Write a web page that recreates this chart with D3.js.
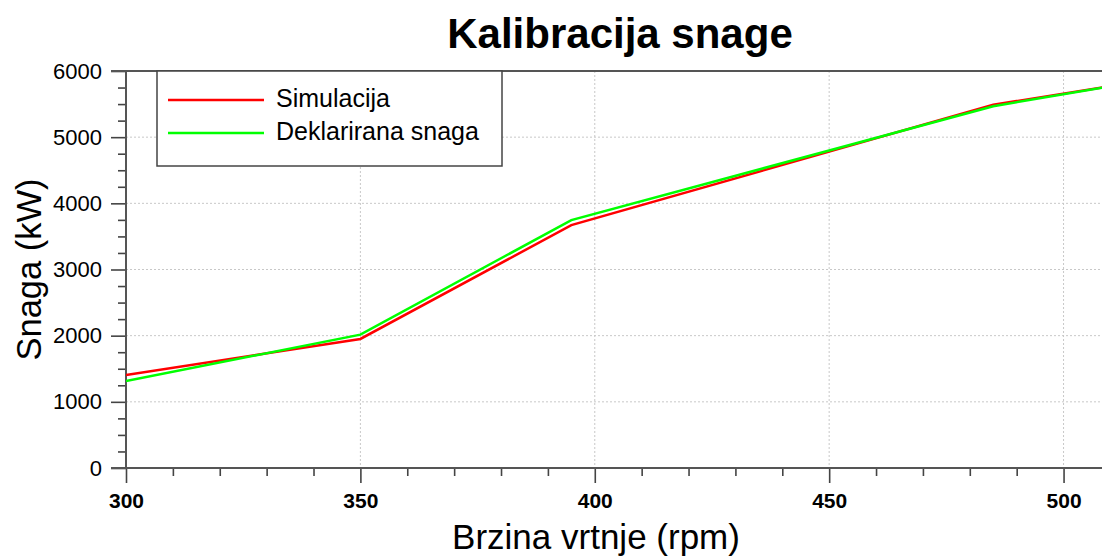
<!DOCTYPE html>
<html>
<head>
<meta charset="utf-8">
<script src="https://cdn.jsdelivr.net/npm/d3@7"></script>
<style>
  body { margin: 0; background: #fff; }
  svg { display: block; font-family: "Liberation Sans", Arial, sans-serif; }
</style>
</head>
<body>
<div id="chart"></div>
<script>
// data
const rpm = [300, 350, 395, 485, 510];
const simulacija = [1405, 1950, 3670, 5490, 5770];
const deklarirana = [1315, 2015, 3746, 5468, 5770];
const xTicks = [300, 350, 400, 450, 500];
const yTicks = [0, 1000, 2000, 3000, 4000, 5000, 6000];

const width = 1102, height = 558;
const margin = {top: 71, right: 0, bottom: 90, left: 126};
const innerWidth = width - margin.left - margin.right;
const innerHeight = height - margin.top - margin.bottom;

const svg = d3.select("#chart").append("svg")
    .attr("width", width)
    .attr("height", height);

const xScale = d3.scaleLinear().domain([300, 508.2]).range([0, innerWidth]);
const yScale = d3.scaleLinear().domain([0, 6000]).range([innerHeight, 0]);

const g = svg.append("g")
    .attr("transform", `translate(${margin.left}, ${margin.top})`);

svg.append("defs").append("clipPath").attr("id", "plotclip")
    .append("rect").attr("width", innerWidth).attr("height", innerHeight);

// dotted grid
g.append("g").selectAll("line").data(yTicks.filter(d => d > 0 && d < 6000)).join("line")
    .attr("x1", 0).attr("x2", innerWidth)
    .attr("y1", d => yScale(d)).attr("y2", d => yScale(d))
    .attr("stroke", "#c8c8c8").attr("stroke-dasharray", "2,2");
g.append("g").selectAll("line").data(xTicks.filter(d => d > 300)).join("line")
    .attr("x1", d => xScale(d)).attr("x2", d => xScale(d))
    .attr("y1", 0).attr("y2", innerHeight)
    .attr("stroke", "#c8c8c8").attr("stroke-dasharray", "2,2");

// axes
const yAxis = d3.axisLeft(yScale).tickValues(yTicks).tickSize(15).tickPadding(9).tickFormat(d3.format("d"));
const yMinor = d3.axisLeft(yScale).tickValues(d3.range(0, 6001, 250).filter(d => d % 1000 !== 0)).tickSize(8).tickFormat("");
const xAxis = d3.axisBottom(xScale).tickValues(xTicks).tickSize(15).tickPadding(10).tickFormat(d3.format("d"));
const xMinor = d3.axisBottom(xScale).tickValues(d3.range(300, 509, 10).filter(d => d % 50 !== 0)).tickSize(8).tickFormat("");

const yG = g.append("g").call(yAxis);
g.append("g").call(yMinor).selectAll("text").remove();
const xG = g.append("g").attr("transform", `translate(0, ${innerHeight})`).call(xAxis);
g.append("g").attr("transform", `translate(0, ${innerHeight})`).call(xMinor).selectAll("text").remove();

g.selectAll(".domain").remove();
g.selectAll(".tick line").attr("stroke", "#444").attr("stroke-width", 1.6);
yG.selectAll("text").attr("font-size", 22).attr("fill", "#000")
    .attr("font-family", "Liberation Sans, Arial, sans-serif");
xG.selectAll("text").attr("font-size", 21).attr("font-weight", "bold").attr("fill", "#000")
    .attr("font-family", "Liberation Sans, Arial, sans-serif");

// axis lines and top border
g.append("line").attr("x1", 0).attr("x2", 0).attr("y1", 0).attr("y2", innerHeight)
    .attr("stroke", "#555").attr("stroke-width", 2);
g.append("line").attr("x1", -15).attr("x2", innerWidth).attr("y1", innerHeight).attr("y2", innerHeight)
    .attr("stroke", "#555").attr("stroke-width", 2);
g.append("line").attr("x1", -15).attr("x2", innerWidth).attr("y1", 0).attr("y2", 0)
    .attr("stroke", "#555").attr("stroke-width", 2);

// series
const series = [
    {name: "Simulacija", values: simulacija, color: "#ff0000"},
    {name: "Deklarirana snaga", values: deklarirana, color: "#00ff00"}
];

const lineGen = d3.line()
    .x((d, i) => xScale(rpm[i]))
    .y(d => yScale(d));

g.append("g").attr("clip-path", "url(#plotclip)")
    .selectAll("path").data(series).join("path")
    .attr("d", d => lineGen(d.values))
    .attr("fill", "none")
    .attr("stroke", d => d.color)
    .attr("stroke-width", 2.5);

// legend
const legend = svg.append("g").attr("transform", "translate(157, 71)");
legend.append("rect")
    .attr("width", 345).attr("height", 95)
    .attr("fill", "#fff").attr("stroke", "#444").attr("stroke-width", 1.5);
series.forEach((s, i) => {
    const y = 29 + i * 33;
    legend.append("line")
        .attr("x1", 11).attr("x2", 107).attr("y1", y).attr("y2", y)
        .attr("stroke", s.color).attr("stroke-width", 2.5);
    legend.append("text")
        .text(s.name)
        .attr("x", 119).attr("y", y)
        .attr("dominant-baseline", "middle")
        .attr("font-size", 25);
});

// title and axis labels
svg.append("text")
    .text("Kalibracija snage")
    .attr("x", 620).attr("y", 48)
    .attr("text-anchor", "middle")
    .attr("font-size", 42)
    .attr("font-weight", "bold");

svg.append("text")
    .text("Brzina vrtnje (rpm)")
    .attr("x", 596).attr("y", 549)
    .attr("text-anchor", "middle")
    .attr("font-size", 35);

svg.append("text")
    .text("Snaga (kW)")
    .attr("transform", `translate(41, ${margin.top + innerHeight / 2}) rotate(-90)`)
    .attr("text-anchor", "middle")
    .attr("font-size", 34.5);
</script>
</body>
</html>
